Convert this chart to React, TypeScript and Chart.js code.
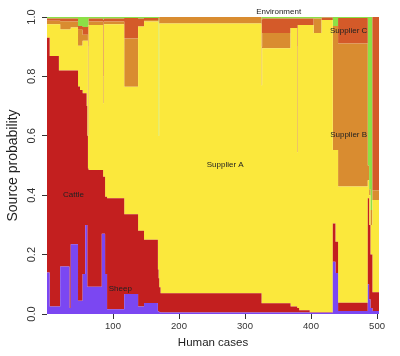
import React, { useEffect, useRef } from "react";
import { Chart, registerables } from "chart.js";

Chart.register(...registerables);

// Human case index at which each step segment starts
const caseStart = [0, 4, 18, 20, 34, 36, 47, 50, 54, 58, 60, 61, 62, 63, 83, 85, 86, 88, 91, 117, 138, 147, 168, 169, 170, 172, 325, 326, 369, 379, 380, 382, 398, 404, 416, 433, 437, 441, 486, 488, 490, 493, 503];

const sheep = [0.14, 0.025, 0.025, 0.16, 0.02, 0.235, 0.045, 0.045, 0.135, 0.3, 0.3, 0.092, 0.092, 0.092, 0.27, 0.27, 0.27, 0.135, 0.016, 0.067, 0.025, 0.037, 0.008, 0.008, 0.006, 0.005, 0.005, 0.005, 0.005, 0.005, 0.005, 0.005, 0.004, 0.004, 0.004, 0.176, 0.138, 0.01, 0.1, 0.05, 0.02, 0.01, 0.01];
const cattle = [0.79, 0.844, 0.795, 0.66, 0.8, 0.585, 0.721, 0.709, 0.608, 0.443, 0.4, 0.508, 0.398, 0.393, 0.215, 0.192, 0.192, 0.26, 0.374, 0.269, 0.255, 0.213, 0.142, 0.112, 0.084, 0.065, 0.031, 0.031, 0.02, 0.015, 0.015, 0.008, 0.002, 0.002, 0.002, 0.129, 0.105, 0.028, 0.29, 0.25, 0.18, 0.063, 0.063];
const supplierA = [0.046, 0.107, 0.156, 0.138, 0.138, 0.145, 0.137, 0.149, 0.177, 0.177, 0.22, 0.32, 0.11, 0.488, 0.488, 0.248, 0.514, 0.581, 0.586, 0.429, 0.688, 0.735, 0.835, 0.48, 0.888, 0.908, 0.734, 0.859, 0.938, 0.525, 0.953, 0.96, 0.967, 0.94, 0.984, 0.247, 0.309, 0.391, 0.06, 0.1, 0.1, 0.311, 0.311];
const supplierB = [0.011, 0.011, 0.011, 0.028, 0.028, 0.02, 0.054, 0.054, 0.02, 0.02, 0.02, 0.02, 0.3, 0.012, 0.012, 0.09, 0.009, 0.009, 0.009, 0.163, 0, 0.005, 0.005, 0, 0.022, 0.022, 0.13, 0.051, 0, 0.355, 0, 0, 0, 0.049, 0, 0.418, 0.418, 0.482, 0.05, 0.02, 0.05, 0.033, 0.033];
const supplierC = [0.008, 0.008, 0.008, 0.009, 0.009, 0.01, 0.013, 0.013, 0.026, 0.026, 0.026, 0.026, 0.07, 0.01, 0.01, 0.19, 0.01, 0.01, 0.01, 0.069, 0.027, 0.007, 0.007, 0, 0, 0, 0.09, 0.049, 0.032, 0.095, 0.022, 0.022, 0.022, 0, 0.008, 0, 0, 0.086, 0, 0, 0, 0.583, 0.583];
const environment = [0.005, 0.005, 0.005, 0.005, 0.005, 0.005, 0.03, 0.03, 0.034, 0.034, 0.034, 0.034, 0.03, 0.005, 0.005, 0.01, 0.005, 0.005, 0.005, 0.003, 0.005, 0.003, 0.003, 0.4, 0, 0, 0.01, 0.005, 0.005, 0.005, 0.005, 0.005, 0.005, 0.005, 0.002, 0.03, 0.03, 0.003, 0.5, 0.58, 0.65, 0, 0];

const seriesNames = ["Sheep", "Cattle", "Supplier A", "Supplier B", "Supplier C", "Environment"];
const xTickValues = [100, 200, 300, 400, 500];
const yTickValues = [0, 0.2, 0.4, 0.6, 0.8, 1.0];

// In-plot labels, in data coordinates (case, probability)
const annotationText = ["Environment", "Supplier C", "Supplier B", "Supplier A", "Cattle", "Sheep"];
const annotationCase = [351, 457, 457, 270, 40, 111];
const annotationProb = [1.017, 0.953, 0.603, 0.502, 0.4, 0.084];

const FONT = "'Liberation Sans', Arial, Helvetica, sans-serif";
const COLORS = ["#7b47f2", "#c31f1f", "#fbe83c", "#d98c30", "#d45a29", "#8ce046"];

export default function App() {
  const ref = useRef<HTMLCanvasElement>(null);

  useEffect(() => {
    if (!ref.current) return;
    const series = [sheep, cattle, supplierA, supplierB, supplierC, environment];
    const datasets = series.map((vals, i) => ({
      label: seriesNames[i],
      data: caseStart.map((x, j) => ({ x, y: vals[j] })),
      backgroundColor: COLORS[i],
      borderColor: COLORS[i],
      borderWidth: 0,
      pointRadius: 0,
      stepped: true,
      fill: i === 0 ? "origin" : "-1",
    }));

    const labelPlugin = {
      id: "areaLabels",
      afterDatasetsDraw(chart: any) {
        const { ctx, scales } = chart;
        ctx.save();
        ctx.font = `8px ${FONT}`;
        ctx.fillStyle = "#222";
        ctx.textAlign = "center";
        ctx.textBaseline = "middle";
        annotationText.forEach((t, i) => {
          ctx.fillText(
            t,
            scales.x.getPixelForValue(annotationCase[i]),
            scales.y.getPixelForValue(annotationProb[i])
          );
        });
        ctx.restore();
      },
    };

    const chart = new Chart(ref.current, {
      type: "line",
      data: { datasets } as any,
      options: {
        animation: false,
        responsive: false,
        maintainAspectRatio: false,
        layout: { padding: { top: 17, right: 21, left: 0, bottom: 0 } },
        plugins: { legend: { display: false }, tooltip: { enabled: false } },
        scales: {
          x: {
            type: "linear",
            min: 0,
            max: 503,
            afterBuildTicks: (s: any) => {
              s.ticks = xTickValues.map((v) => ({ value: v }));
            },
            afterFit: (s: any) => {
              s.height = 42;
            },
            grid: { display: true, drawOnChartArea: false, drawTicks: true, tickLength: 5, color: "#333" },
            border: { display: false },
            ticks: { font: { family: FONT, size: 9.5 }, color: "#333", padding: 2, maxRotation: 0, autoSkip: false },
            title: { display: true, text: "Human cases", font: { family: FONT, size: 11.5 }, color: "#222", padding: { top: 0, bottom: 6 } },
          },
          y: {
            type: "linear",
            stacked: true,
            min: 0,
            max: 1,
            afterBuildTicks: (s: any) => {
              s.ticks = yTickValues.map((v) => ({ value: v }));
            },
            afterFit: (s: any) => {
              s.width = 47;
            },
            grid: { display: true, drawOnChartArea: false, drawTicks: true, tickLength: 5, color: "#333" },
            border: { display: false },
            ticks: {
              font: { family: FONT, size: 11 },
              color: "#333",
              padding: 2,
              minRotation: 90,
              maxRotation: 90,
              crossAlign: "center",
              autoSkip: false,
              callback: (v: any) => Number(v).toFixed(1),
            },
            title: { display: true, text: "Source probability", font: { family: FONT, size: 14 }, color: "#222", padding: { top: 5, bottom: 0 } },
          },
        },
      } as any,
      plugins: [labelPlugin],
    });
    return () => chart.destroy();
  }, []);

  return (
    <div style={{ position: "fixed", left: 0, top: 0, width: 400, height: 356, background: "#fff" }}>
      <canvas ref={ref} width={400} height={356} style={{ display: "block" }} />
    </div>
  );
}
